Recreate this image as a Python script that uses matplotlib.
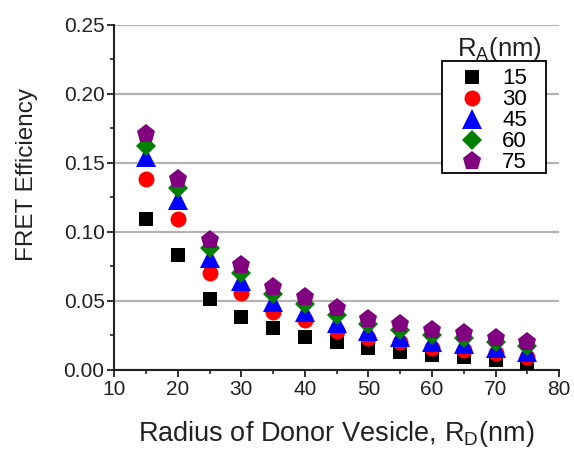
#!/usr/bin/env python
# -*- coding: utf-8 -*-

import matplotlib
matplotlib.use('Agg')
import matplotlib.pyplot as plt
import matplotlib.patches as mpatches
from matplotlib.ticker import MultipleLocator

plt.rcParams['font.family'] = ['Liberation Sans', 'DejaVu Sans']
plt.rcParams['mathtext.default'] = 'regular'

# donor vesicle radius (nm)
r_donor = [15, 20, 25, 30, 35, 40, 45, 50, 55, 60, 65, 70, 75]

# FRET efficiency for each acceptor vesicle radius R_A (nm)
ra_labels = ['15', '30', '45', '60', '75']
eff_15 = [0.109, 0.083, 0.051, 0.038, 0.030, 0.024, 0.020, 0.016, 0.013, 0.011, 0.009, 0.007, 0.005]
eff_30 = [0.138, 0.109, 0.070, 0.056, 0.042, 0.036, 0.028, 0.023, 0.020, 0.016, 0.0145, 0.012, 0.009]
eff_45 = [0.154, 0.123, 0.081, 0.064, 0.049, 0.042, 0.034, 0.028, 0.024, 0.020, 0.019, 0.016, 0.013]
eff_60 = [0.162, 0.132, 0.088, 0.070, 0.055, 0.048, 0.040, 0.033, 0.029, 0.025, 0.023, 0.020, 0.017]
eff_75 = [0.171, 0.138, 0.094, 0.076, 0.060, 0.053, 0.045, 0.037, 0.033, 0.029, 0.027, 0.023, 0.020]


def main():
    fig = plt.figure(figsize=(5.74, 4.51), dpi=100)
    ax = fig.add_axes([0.199, 0.180, 0.775, 0.765])

    series = [eff_15, eff_30, eff_45, eff_60, eff_75]
    styles = [('s', 'black', 9.5),
              ('o', 'red', 11.5),
              ('^', 'blue', 14),
              ('D', 'green', 10.5),
              ('p', 'purple', 14)]
    for vals, lab, (mk, col, ms) in zip(series, ra_labels, styles):
        ax.plot(r_donor, vals, linestyle='none', marker=mk, color=col,
                markersize=ms, markeredgewidth=0, label=lab, zorder=3)

    # range
    ax.set_xlim(10, 80)
    ax.set_ylim(0, 0.25)
    ax.xaxis.set_major_locator(MultipleLocator(10))
    ax.xaxis.set_minor_locator(MultipleLocator(5))
    ax.yaxis.set_major_locator(MultipleLocator(0.05))
    ax.yaxis.set_minor_locator(MultipleLocator(0.025))
    ax.yaxis.set_major_formatter(plt.FormatStrFormatter('%.2f'))

    # tune
    ax.grid(axis='y', color='#b4b4b4', linewidth=1.6, zorder=0)
    ax.set_axisbelow(True)
    for s in ('top', 'right'):
        ax.spines[s].set_visible(False)
    for s in ('left', 'bottom'):
        ax.spines[s].set_linewidth(1.5)
        ax.spines[s].set_color('#222222')
    ax.tick_params(which='major', direction='out', length=5, width=1.3,
                   labelsize=15, colors='#222222', pad=2)
    ax.tick_params(which='minor', direction='out', length=3, width=1.2,
                   colors='#222222')

    ax.set_ylabel('FRET Efficiency', fontsize=17.5, color='#222222')
    ax.yaxis.set_label_coords(-0.171, 0.565)
    ax.set_xlabel('Radius of Donor Vesicle, R$_{D}$(nm)', fontsize=19.5,
                  color='#222222', labelpad=15)

    # legend: boxed entries, title sitting above the box
    box = mpatches.Rectangle((0.737, 0.571), 0.234, 0.325,
                             transform=ax.transAxes, facecolor='white',
                             edgecolor='black', linewidth=1.3, zorder=4)
    ax.add_patch(box)
    ax.legend(loc='upper left', bbox_to_anchor=(0.737, 0.89),
              fontsize=16, frameon=False, borderpad=0.25,
              labelspacing=0.0, handletextpad=0.25, handlelength=2.2,
              borderaxespad=0)
    ax.text(0.866, 0.93, 'R$_{A}$(nm)', transform=ax.transAxes,
            ha='center', va='center', fontsize=18.5, color='#222222')

    plt.savefig('out.png', dpi=100)


if __name__ == '__main__':
    main()
